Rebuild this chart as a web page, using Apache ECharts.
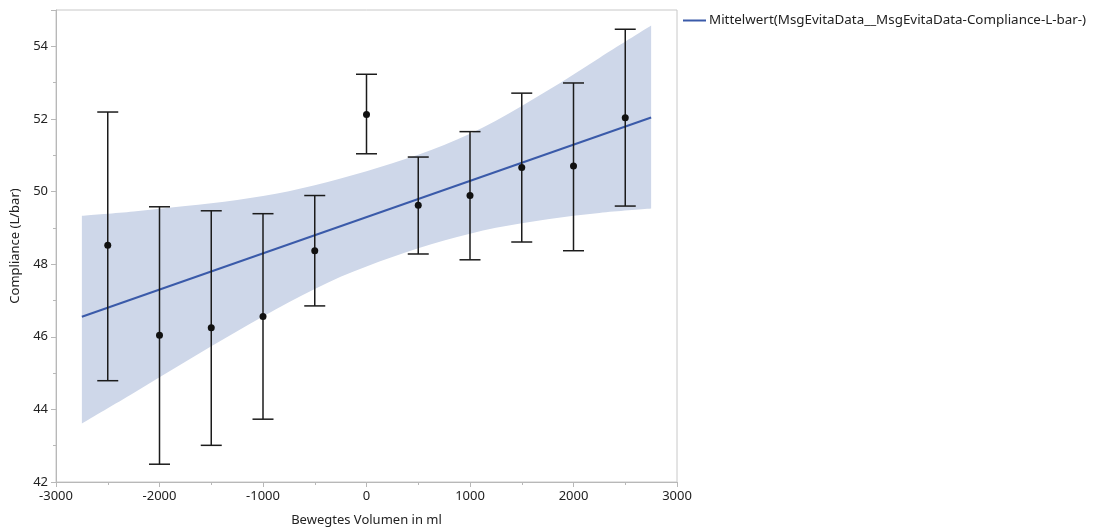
<!DOCTYPE html>
<html>
<head>
<meta charset="utf-8">
<script src="https://cdn.jsdelivr.net/npm/echarts@6/dist/echarts.min.js"></script>
<style>
html,body{margin:0;padding:0;background:#fff;}
#chart{width:1093px;height:530px;}
</style>
</head>
<body>
<div id="chart"></div>
<script>
// ---- data ----
const volumes = [-2500, -2000, -1500, -1000, -500, 0, 500, 1000, 1500, 2000, 2500];
const means   = [48.52, 46.04, 46.25, 46.56, 48.37, 52.12, 49.62, 49.89, 50.66, 50.70, 52.03];
const errLow  = [44.79, 42.49, 43.01, 43.73, 46.85, 51.04, 48.28, 48.12, 48.61, 48.37, 49.60];
const errHigh = [52.19, 49.58, 49.47, 49.39, 49.89, 53.23, 50.95, 51.65, 52.71, 52.99, 54.47];

const fitX = [-2750, 2750];
const fitY = [46.55, 52.04];

const bandX     = [-2750, -2250, -1750, -1250, -750, -250, 250, 750, 1250, 1750, 2250, 2750];
const bandUpper = [49.33, 49.45, 49.60, 49.77, 50.01, 50.36, 50.78, 51.28, 51.95, 52.78, 53.68, 54.57];
const bandLower = [43.61, 44.45, 45.31, 46.15, 46.95, 47.65, 48.20, 48.65, 49.00, 49.24, 49.41, 49.53];

const xTicks = {min: -3000, max: 3000, interval: 1000};
const yTicks = {min: 42, max: 55, interval: 2};

const legendName = 'Mittelwert(MsgEvitaData__MsgEvitaData-Compliance-L-bar-)';

// ---- build options ----
const FONT = 'Noto Sans';
const axisGray = '#b8b8b8';
const textCol = '#222';
const bandColor = '#ced7e9';

function smoothPath(pts, moveFirst) {
  // Catmull-Rom through the given pixel points, as cubic bezier segments
  let d = (moveFirst ? 'M' : 'L') + pts[0][0] + ' ' + pts[0][1];
  for (let i = 0; i < pts.length - 1; i++) {
    const p0 = pts[Math.max(i - 1, 0)], p1 = pts[i], p2 = pts[i + 1], p3 = pts[Math.min(i + 2, pts.length - 1)];
    const c1x = p1[0] + (p2[0] - p0[0]) / 6, c1y = p1[1] + (p2[1] - p0[1]) / 6;
    const c2x = p2[0] - (p3[0] - p1[0]) / 6, c2y = p2[1] - (p3[1] - p1[1]) / 6;
    d += ' C' + c1x + ' ' + c1y + ' ' + c2x + ' ' + c2y + ' ' + p2[0] + ' ' + p2[1];
  }
  return d;
}

const chart = echarts.init(document.getElementById('chart'), null, {renderer: 'canvas'});

chart.setOption({
  animation: false,
  backgroundColor: '#fff',
  textStyle: {fontFamily: FONT},
  grid: {left: 56, top: 10, right: 416, bottom: 48, show: true, borderColor: '#c8c8c8', borderWidth: 1,
         backgroundColor: 'transparent', containLabel: false, outerBoundsMode: 'none'},
  legend: {
    data: [legendName],
    left: 683, top: 14, padding: 0,
    itemWidth: 23, itemHeight: 2, itemGap: 6,
    textStyle: {fontFamily: FONT, fontSize: 13.4, color: textCol, padding: [0,0,0,-2]},
    icon: 'rect'
  },
  xAxis: {
    type: 'value', min: xTicks.min, max: xTicks.max, interval: xTicks.interval, z: 10,
    name: 'Bewegtes Volumen in ml', nameLocation: 'middle', nameGap: 32,
    nameTextStyle: {fontFamily: FONT, fontSize: 13, color: textCol},
    axisLine: {show: true, onZero: false, lineStyle: {color: axisGray, width: 1}},
    axisTick: {show: true, length: 5, lineStyle: {color: axisGray}},
    minorTick: {show: true, splitNumber: 2, length: 3, lineStyle: {color: axisGray}},
    splitLine: {show: false},
    axisLabel: {fontFamily: FONT, fontSize: 13, color: textCol, margin: 8, formatter: v => String(v)}
  },
  yAxis: {
    type: 'value', min: yTicks.min, max: yTicks.max, interval: yTicks.interval, z: 10,
    name: 'Compliance (L/bar)', nameLocation: 'middle', nameGap: 32,
    nameTextStyle: {fontFamily: FONT, fontSize: 13, color: textCol},
    axisLine: {show: true, onZero: false, lineStyle: {color: axisGray, width: 1}},
    axisTick: {show: true, length: 5, lineStyle: {color: axisGray}},
    minorTick: {show: true, splitNumber: 2, length: 3, lineStyle: {color: axisGray}},
    splitLine: {show: false},
    axisLabel: {fontFamily: FONT, fontSize: 13, color: textCol, margin: 8, showMaxLabel: false, formatter: v => String(v)}
  },
  series: [
    {
      name: 'band', type: 'custom', z: 1, silent: true,
      data: bandX.map((x, i) => [x, bandLower[i], bandUpper[i]]),
      renderItem: function (params, api) {
        if (params.dataIndex !== 0) return null;
        const up = bandX.map((x, i) => api.coord([x, bandUpper[i]]));
        const lo = bandX.map((x, i) => api.coord([x, bandLower[i]])).reverse();
        const d = smoothPath(up, true) + ' ' + smoothPath(lo, false) + ' Z';
        return {type: 'path', shape: {pathData: d}, style: {fill: bandColor, stroke: null}};
      }
    },
    {
      name: legendName, type: 'line', data: fitX.map((x, i) => [x, fitY[i]]),
      symbol: 'none', lineStyle: {color: '#3a5aa9', width: 2}, itemStyle: {color: '#3a5aa9'}, z: 3
    },
    {
      name: 'errorbars', type: 'custom', z: 4,
      data: volumes.map((x, i) => [x, errLow[i], errHigh[i]]),
      renderItem: function (params, api) {
        const x = api.value(0);
        const pHi = api.coord([x, api.value(2)]);
        const pLo = api.coord([x, api.value(1)]);
        const hw = 10.5;
        const st = {stroke: '#1b1b1b', lineWidth: 1.5};
        return {
          type: 'group',
          children: [
            {type: 'line', shape: {x1: pHi[0], y1: pHi[1], x2: pLo[0], y2: pLo[1]}, style: st},
            {type: 'line', shape: {x1: pHi[0] - hw, y1: pHi[1], x2: pHi[0] + hw, y2: pHi[1]}, style: st},
            {type: 'line', shape: {x1: pLo[0] - hw, y1: pLo[1], x2: pLo[0] + hw, y2: pLo[1]}, style: st}
          ]
        };
      },
      silent: true
    },
    {
      name: 'means', type: 'scatter', z: 5,
      data: volumes.map((x, i) => [x, means[i]]),
      symbol: 'circle', symbolSize: 7,
      itemStyle: {color: '#111', opacity: 1}, silent: true
    }
  ]
});
</script>
</body>
</html>
